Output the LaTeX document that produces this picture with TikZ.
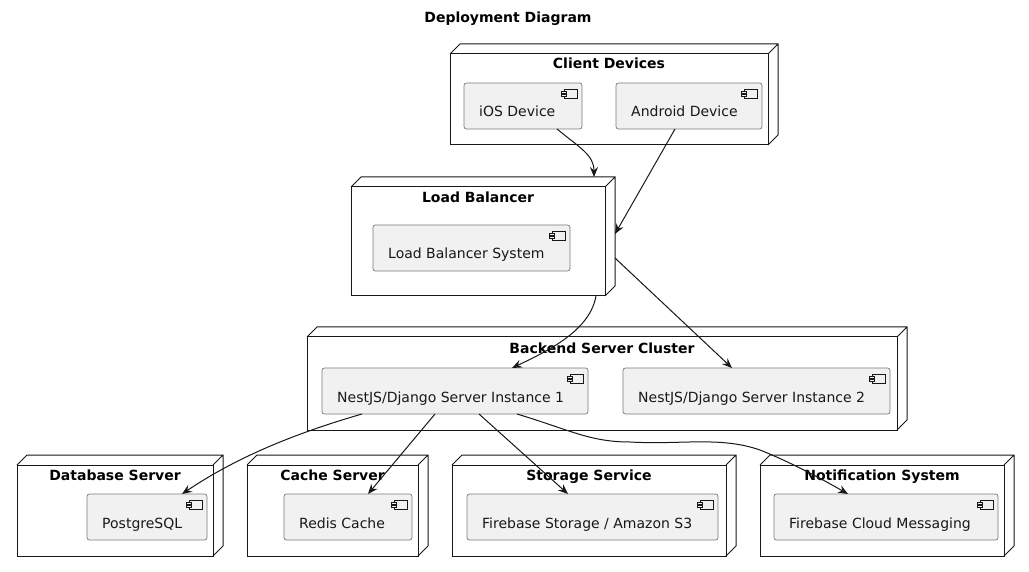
\documentclass[tikz,border=0pt]{standalone}
\usepackage{fontspec}
\setmainfont{DejaVu Sans}
\usetikzlibrary{arrows.meta,calc}
\definecolor{linec}{HTML}{181818}
\definecolor{compfill}{HTML}{F1F1F1}
\definecolor{compline}{HTML}{7A7A7A}
\begin{document}
\begin{tikzpicture}[x=1pt,y=-1pt,
  nodebox/.style={draw=linec, line width=1pt, fill=white, inner sep=0pt, outer sep=0pt},
  nodeline/.style={draw=linec, line width=1pt, line join=miter},
  comp/.style={draw=compline, line width=0.7pt, fill=compfill, rounded corners=2.5pt, inner sep=0pt, outer sep=0pt, minimum height=46pt},
  comptext/.style={anchor=base west, inner sep=0pt, font=\fontsize{14}{16}\selectfont, text=linec},
  ntitle/.style={anchor=base, inner sep=0pt, font=\fontsize{14}{16}\selectfont\bfseries, text=black},
  conn/.style={draw=linec, line width=1pt, -{Stealth[length=10pt,width=8pt,inset=3.5pt]}},
  icon/.style={draw=linec, line width=0.5pt, fill=compfill}
]
\useasboundingbox[fill=white] (0,0) rectangle (1029,572);

\node[anchor=base, inner sep=0pt, font=\fontsize{14}{16}\selectfont\bfseries] (title) at (508,23) {Deployment Diagram};

% deployment nodes (front faces)
\node[nodebox, minimum width=318pt, minimum height=91pt] (cd)  at (609,99.5) {};
\node[nodebox, minimum width=254pt, minimum height=109pt] (lb) at (478,241.5) {};
\node[nodebox, minimum width=590pt, minimum height=93pt] (bsc) at (602,383.5) {};
\node[nodebox, minimum width=196pt, minimum height=91pt] (db)  at (115,510.5) {};
\node[nodebox, minimum width=171pt, minimum height=91pt] (cs)  at (332.5,510.5) {};
\node[nodebox, minimum width=274pt, minimum height=91pt] (ss)  at (589,510.5) {};
\node[nodebox, minimum width=244pt, minimum height=91pt] (ns)  at (882,510.5) {};

\foreach \n in {cd,lb,bsc,db,cs,ss,ns}{
  \draw[nodeline] (\n.north west) -- ++(10,-10) -| ($(\n.south east)+(10,-10)$) -- (\n.south east)
                  (\n.north east) -- ++(10,-10);
}

% node titles
\node[ntitle] (cdT)  at ($(cd.north)+(0,15)$)  {Client Devices};
\node[ntitle] (lbT)  at ($(lb.north)+(0,16)$)  {Load Balancer};
\node[ntitle] (bscT) at ($(bsc.north)+(0,16)$) {Backend Server Cluster};
\node[ntitle] (dbT)  at ($(db.north)+(0,15)$)  {Database Server};
\node[ntitle] (csT)  at ($(cs.north)+(0,15)$)  {Cache Server};
\node[ntitle] (ssT)  at ($(ss.north)+(0,15)$)  {Storage Service};
\node[ntitle] (nsT)  at ($(ns.north)+(0,15)$)  {Notification System};

% components
\node[comp, minimum width=118pt] (ios)     at (523,106)   {};
\node[comp, minimum width=146pt] (android) at (689,106)   {};
\node[comp, minimum width=197pt] (lbs)     at (471.5,248) {};
\node[comp, minimum width=266pt] (inst1)   at (455,391)   {};
\node[comp, minimum width=267pt] (inst2)   at (756.5,391) {};
\node[comp, minimum width=120pt] (pg)      at (147,517)   {};
\node[comp, minimum width=128pt] (redis)   at (348,517)   {};
\node[comp, minimum width=251pt] (fs)      at (592.5,517) {};
\node[comp, minimum width=224pt] (fcm)     at (886,517)   {};

\foreach \c/\t in {ios/{iOS Device}, android/{Android Device}, lbs/{Load Balancer System},
                   inst1/{NestJS/Django Server Instance 1}, inst2/{NestJS/Django Server Instance 2},
                   pg/{PostgreSQL}, redis/{Redis Cache}, fs/{Firebase Storage / Amazon S3}, fcm/{Firebase Cloud Messaging}}{
  \node[comptext] (\c T) at ($(\c.north west)+(15,34)$) {\t};
  \draw[icon] ($(\c.north east)+(-18,6)$) rectangle ($(\c.north east)+(-5,15)$);
  \draw[icon] ($(\c.north east)+(-21,8)$) rectangle ($(\c.north east)+(-15.5,10)$);
  \draw[icon] ($(\c.north east)+(-21,11.5)$) rectangle ($(\c.north east)+(-15.5,13.5)$);
}

% connectors
\draw[conn] ($(ios.south)+(34,0)$) .. controls (580,148) and (594,155) .. ($(lb.north)+(116,-10)$);
\draw[conn] ($(android.south)+(-14,0)$) -- ($(lb.east)+(10,-7.5)$);
\draw[conn] ($(lb.south)+(118,0)$) .. controls (590,330) and (550,350) .. ($(inst1.north)+(57,0)$);
\draw[conn] ($(lb.east)+(10,16.5)$) -- ($(inst2.north)+(-24.5,0)$);
\draw[conn] ($(inst1.south)+(-93,0)$) .. controls (300,432) and (240,455) .. ($(pg.north)+(35,0)$);
\draw[conn] ($(inst1.south)+(-20,0)$) -- ($(redis.north)+(20,0)$);
\draw[conn] ($(inst1.south)+(24,0)$) -- ($(fs.north)+(-24.5,0)$);
\draw[conn] ($(inst1.south)+(62,0)$) .. controls (570,430) and (590,442) .. (630,442)
            .. controls (680,445) and (720,436) .. (760,450)
            .. controls (790,462) and (820,478) .. ($(fcm.north)+(-38,0)$);
\end{tikzpicture}
\end{document}
